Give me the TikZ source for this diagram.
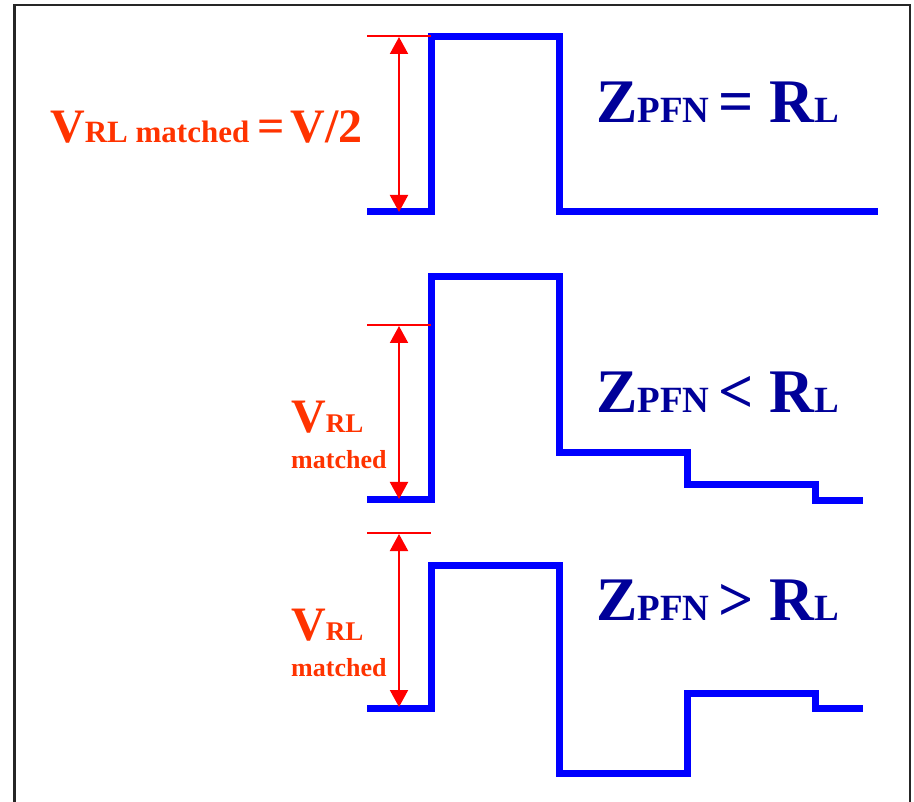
\documentclass[tikz,border=0pt]{standalone}
\usepackage{fontspec}
\setmainfont{Liberation Serif}
\usetikzlibrary{arrows.meta}
\definecolor{wave}{HTML}{0000FF}
\definecolor{dimred}{HTML}{FF0000}
\definecolor{lblred}{HTML}{FF3300}
\definecolor{eqblue}{HTML}{000099}
\newcommand{\fsz}[1]{\fontsize{#1}{#1}\selectfont}
\begin{document}
\begin{tikzpicture}[x=1pt,y=-1pt,
  wavepath/.style={draw=wave, line width=7pt, line join=miter},
  dimline/.style={draw=dimred, line width=2pt},
  dimarrow/.style={dimline, {Triangle[length=17pt,width=18pt]}-{Triangle[length=17pt,width=18pt]}},
  redlbl/.style={text=lblred, font=\bfseries, inner sep=0pt, anchor=base west},
  bluelbl/.style={text=eqblue, font=\bfseries, inner sep=0pt, anchor=base west},
]
\useasboundingbox (0,0) rectangle (914,802);
\clip (0,0) rectangle (914,802);
\draw[black!85, line width=2.5pt] (14.5,5) rectangle (910,830);

% ---------- pulse 1 : Z = R
\draw[wavepath] (367,212) -- (431,212) -- (431,37) -- (559,37) -- (559,212) -- (878,212);
\coordinate (d1a) at (367,36); \coordinate (d1b) at (431,36);
\coordinate (a1t) at (399,37); \coordinate (a1b) at (399,212);
\draw[dimline] (d1a) -- (d1b);
\draw[dimarrow] (a1t) -- (a1b);
\node[redlbl] (lbl1) at (50,143) {\fsz{48}V\fsz{31}RL matched \fsz{48}=\hspace{6pt}V/2};
\node[bluelbl] (eq1) at (596,123) {\fsz{62}Z\fsz{37}PFN \fsz{62}= R\fsz{37}L};

% ---------- pulse 2 : Z < R
\draw[wavepath] (367,500) -- (431,500) -- (431,277) -- (559,277) -- (559,453) -- (687,453) -- (687,485) -- (815,485) -- (815,501) -- (863,501);
\coordinate (d2a) at (367,325); \coordinate (d2b) at (431,325);
\coordinate (a2t) at (399,326); \coordinate (a2b) at (399,499);
\draw[dimline] (d2a) -- (d2b);
\draw[dimarrow] (a2t) -- (a2b);
\node[redlbl] (lbl2a) at (291,433) {\fsz{48}V\fsz{27}RL};
\node[redlbl] (lbl2b) at (291,468) {\fsz{26}matched};
\node[bluelbl] (eq2) at (596,413) {\fsz{62}Z\fsz{37}PFN \fsz{62}< R\fsz{37}L};

% ---------- pulse 3 : Z > R
\draw[wavepath] (367,708) -- (431,708) -- (431,565) -- (559,565) -- (559,773) -- (687,773) -- (687,693) -- (815,693) -- (815,708) -- (863,708);
\coordinate (d3a) at (367,533); \coordinate (d3b) at (431,533);
\coordinate (a3t) at (399,534); \coordinate (a3b) at (399,707);
\draw[dimline] (d3a) -- (d3b);
\draw[dimarrow] (a3t) -- (a3b);
\node[redlbl] (lbl3a) at (291,640) {\fsz{48}V\fsz{27}RL};
\node[redlbl] (lbl3b) at (291,676) {\fsz{26}matched};
\node[bluelbl] (eq3) at (596,620) {\fsz{62}Z\fsz{37}PFN \fsz{62}> R\fsz{37}L};
\end{tikzpicture}
\end{document}
